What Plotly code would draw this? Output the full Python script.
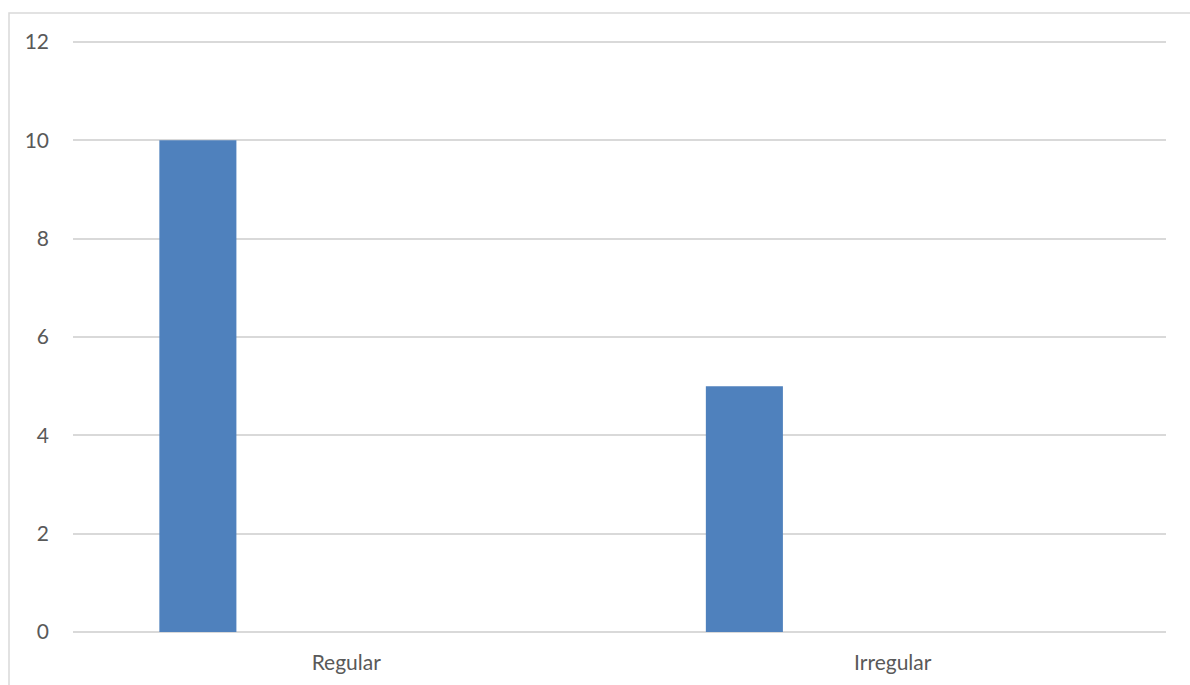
import plotly.graph_objects as go

categories = ["Regular", "Irregular"]
counts = [10, 5]
y_ticks = [0, 2, 4, 6, 8, 10, 12]

W, H = 1190, 685
Y_MAX = 12.1
ML, MR, MB = 73, 24, 53
grid_h = 590  # pixel distance from 0 to 12
plot_h = round(grid_h * Y_MAX / 12)
MT = H - MB - plot_h
plot_w = W - ML - MR

fig = go.Figure()
fig.add_trace(go.Bar(
    x=categories,
    y=counts,
    marker=dict(color="#4f81bd", line=dict(width=0)),
    width=0.141,
    offset=-0.342,
    hoverinfo="x+y",
))

font = dict(family="Lato, 'Open Sans', sans-serif", size=21, color="#595959")

fig.update_layout(
    width=W, height=H,
    margin=dict(l=ML, r=MR, t=MT, b=MB),
    paper_bgcolor="white",
    plot_bgcolor="white",
    showlegend=False,
    font=font,
    xaxis=dict(
        type="category",
        range=[-0.5, 1.5],
        showgrid=False,
        showline=False,
        zeroline=False,
        ticks="",
        ticklabelstandoff=16,
        tickfont=font,
    ),
    yaxis=dict(
        range=[0, Y_MAX],
        tickvals=y_ticks,
        showgrid=True,
        gridcolor="#d9d9d9",
        gridwidth=1.5,
        zeroline=True,
        zerolinecolor="#d9d9d9",
        zerolinewidth=1.5,
        showline=False,
        ticks="",
        ticklabelstandoff=23,
        tickfont=font,
    ),
    shapes=[
        # chart-area frame (its right and bottom edges run off the page)
        dict(
            type="rect", xref="paper", yref="paper",
            x0=(9 - ML) / plot_w, x1=(W + 20 - ML) / plot_w,
            y0=-(MB + 20) / plot_h, y1=(H - MB - 13) / plot_h,
            line=dict(color="#d9d9d9", width=1.5),
            layer="below",
        )
    ],
)

fig.write_html("out.html")
